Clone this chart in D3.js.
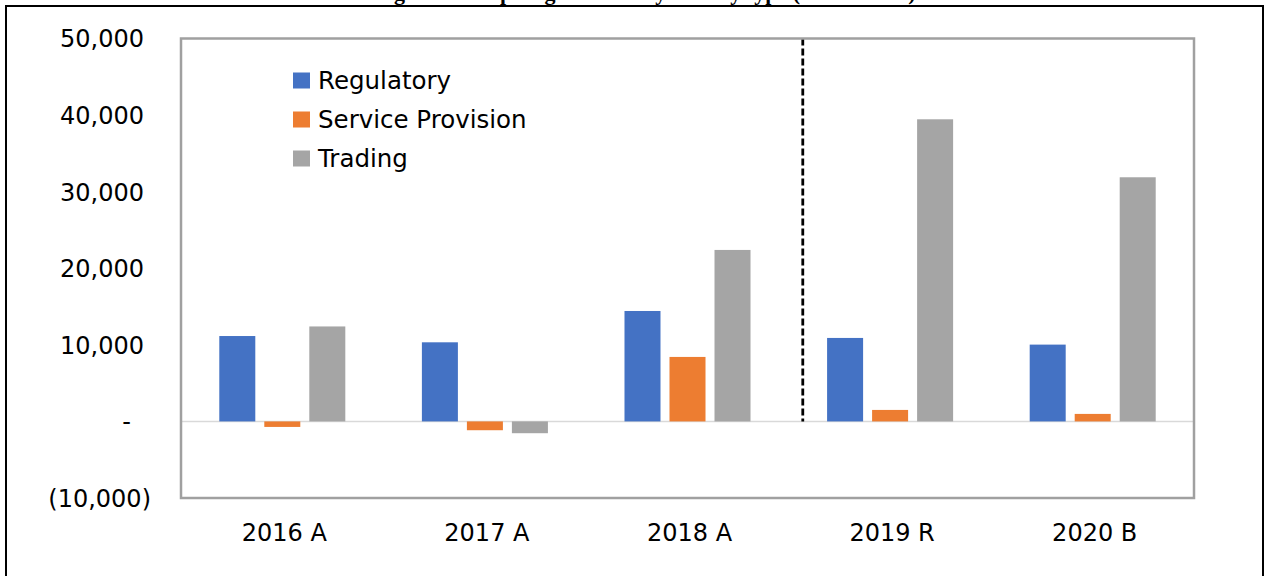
<!DOCTYPE html>
<html>
<head>
<meta charset="utf-8">
<script src="https://cdn.jsdelivr.net/npm/d3@7"></script>
<style>
  html, body { margin: 0; padding: 0; background: #fff; }
  svg { display: block; }
  .tick-label, .cat-label, .legend-label { font-family: "DejaVu Sans", sans-serif; fill: #000; }
</style>
</head>
<body>
<svg id="chart" width="1264" height="576"></svg>
<script>
// ---- data ----
const categories = ['2016 A', '2017 A', '2018 A', '2019 R', '2020 B'];
const seriesNames = ['Regulatory', 'Service Provision', 'Trading'];
const regulatory = [11150, 10330, 14420, 10900, 10030];
const serviceProvision = [-720, -1150, 8420, 1500, 980];
const trading = [12400, -1540, 22390, 39450, 31880];
const yTicks = [-10000, 0, 10000, 20000, 30000, 40000, 50000];

const COLORS = ['#4472C4', '#ED7D31', '#A5A5A5'];
const seriesValues = [regulatory, serviceProvision, trading];

const svg = d3.select('#chart');
const W = 1264, H = 576;

// cut-off title above the page box (only descenders show)
svg.append('text')
  .attr('x', 645)
  .attr('y', -0.5)
  .attr('text-anchor', 'middle')
  .style('font-family', '"Liberation Serif", serif')
  .style('font-weight', 'bold')
  .style('font-size', '22px')
  .style('fill', '#000')
  .text('Figure 4: Surplus generated by activity type (R thousand)');

svg.append('rect')
  .attr('x', 6).attr('y', 6)
  .attr('width', W - 7).attr('height', H + 20)
  .attr('fill', 'none')
  .attr('stroke', '#000')
  .attr('stroke-width', 2);

// plot area
const plot = { left: 181, right: 1194, top: 38.5, bottom: 498 };

const x0 = d3.scaleBand()
  .domain(categories)
  .range([plot.left, plot.right])
  .paddingInner(0.378)
  .paddingOuter(0.189);

const x1 = d3.scaleBand()
  .domain(seriesNames)
  .range([0, x0.bandwidth()])
  .paddingInner(0.2)
  .paddingOuter(0);

const y = d3.scaleLinear()
  .domain([-10000, 50000])
  .range([plot.bottom, plot.top]);

// y axis labels (no line)
const fmt = d3.format(',');
const yAxis = d3.axisLeft(y)
  .tickValues(yTicks)
  .tickSize(0)
  .tickPadding(0)
  .tickFormat((d) => (d === 0 ? '-' : d < 0 ? '(' + fmt(-d) + ')' : fmt(d)));

const yg = svg.append('g')
  .attr('transform', 'translate(145,0)')
  .call(yAxis);
yg.select('.domain').remove();
yg.selectAll('text')
  .attr('class', 'tick-label')
  .style('font-size', '24px')
  .attr('dy', '0.35em')
  .attr('dx', (d) => (d === 0 ? -14 : d < 0 ? 6 : -1));

// zero line
svg.append('line')
  .attr('x1', plot.left).attr('x2', plot.right)
  .attr('y1', y(0)).attr('y2', y(0))
  .attr('stroke', '#D9D9D9')
  .attr('stroke-width', 1.5);

// bars
const groups = svg.selectAll('.cat')
  .data(categories)
  .enter()
  .append('g')
  .attr('class', 'cat')
  .attr('transform', (d) => 'translate(' + x0(d) + ',0)');

groups.selectAll('rect')
  .data((d, i) => seriesNames.map((s, j) => ({ series: s, value: seriesValues[j][i], color: COLORS[j] })))
  .enter()
  .append('rect')
  .attr('x', (d) => x1(d.series))
  .attr('width', x1.bandwidth())
  .attr('y', (d) => y(Math.max(0, d.value)))
  .attr('height', (d) => Math.abs(y(d.value) - y(0)))
  .attr('fill', (d) => d.color);

// category labels
svg.append('g')
  .selectAll('text')
  .data(categories)
  .enter()
  .append('text')
  .attr('class', 'cat-label')
  .attr('x', (d) => x0(d) + x0.bandwidth() / 2 + 2)
  .attr('y', 533)
  .attr('dy', '0.35em')
  .attr('text-anchor', 'middle')
  .style('font-size', '24px')
  .text((d) => d);

// dashed divider between actuals and projections
const dividerX = x0('2019 R') - x0.step() * 0.12;
svg.append('line')
  .attr('x1', dividerX).attr('x2', dividerX)
  .attr('y1', plot.top).attr('y2', y(0))
  .attr('stroke', '#000')
  .attr('stroke-width', 2.8)
  .attr('stroke-dasharray', '7,3');

// plot frame
svg.append('rect')
  .attr('x', plot.left).attr('y', plot.top)
  .attr('width', plot.right - plot.left)
  .attr('height', plot.bottom - plot.top)
  .attr('fill', 'none')
  .attr('stroke', '#A0A0A0')
  .attr('stroke-width', 2.5);

// legend
const legend = svg.append('g').attr('transform', 'translate(293,80.5)');
const items = legend.selectAll('g')
  .data(seriesNames)
  .enter()
  .append('g')
  .attr('transform', (d, i) => 'translate(0,' + i * 39 + ')');

items.append('rect')
  .attr('x', 0).attr('y', -8)
  .attr('width', 17).attr('height', 16)
  .attr('fill', (d, i) => COLORS[i]);

items.append('text')
  .attr('class', 'legend-label')
  .attr('x', 25)
  .attr('dy', '0.35em')
  .style('font-size', '24.5px')
  .text((d) => d);
</script>
</body>
</html>
